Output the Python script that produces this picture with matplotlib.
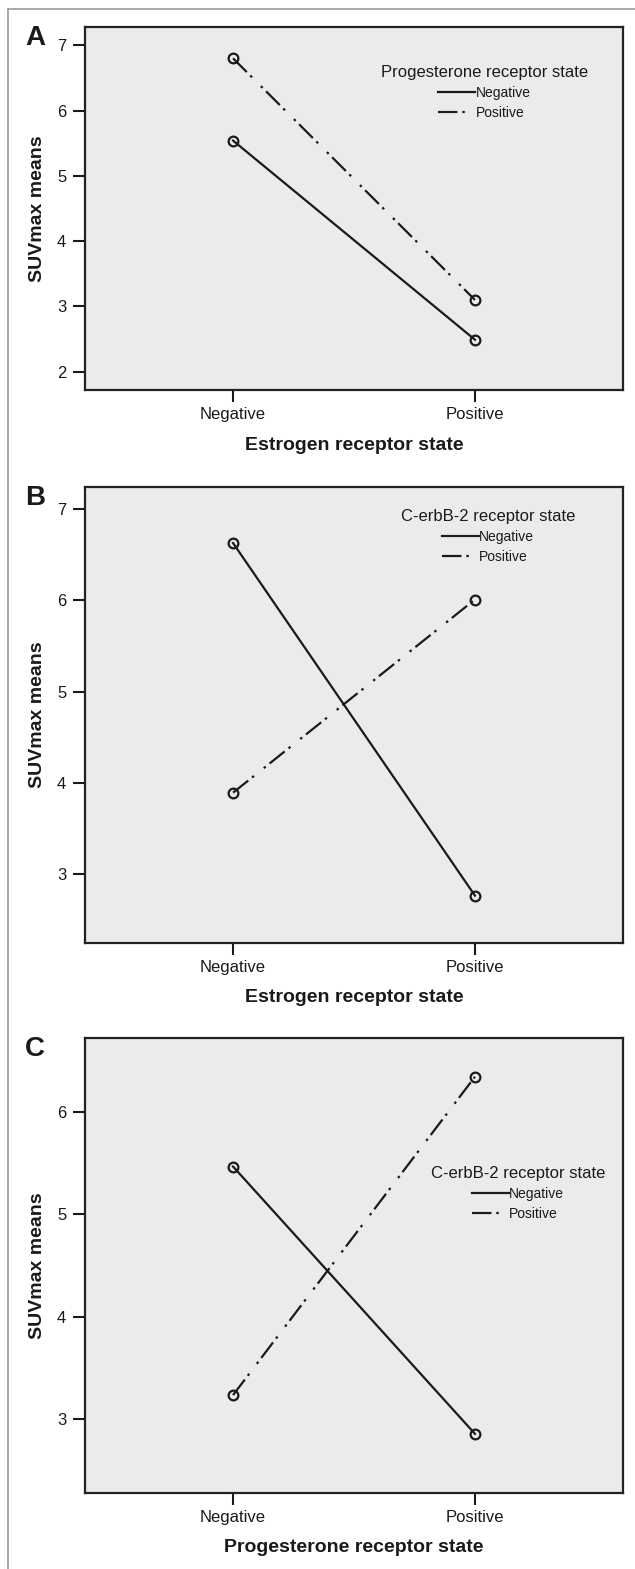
import matplotlib
matplotlib.use('Agg')
import matplotlib.pyplot as plt
from matplotlib.lines import Line2D

plt.rcParams['font.family'] = ['Liberation Sans', 'DejaVu Sans']
plt.rcParams['lines.scale_dashes'] = False

# data
groups = ['Negative', 'Positive']

# A: estrogen x progesterone
a_neg = [5.54, 2.49]
a_pos = [6.80, 3.10]
# B: estrogen x C-erbB-2
b_neg = [6.63, 2.76]
b_pos = [3.89, 6.01]
# C: progesterone x C-erbB-2
c_neg = [5.47, 2.85]
c_pos = [3.23, 6.35]

W, H = 635, 1569
fig = plt.figure(figsize=(W / 100, H / 100), dpi=100)

ink = '#1a1a1a'
dashdot = (0, (14, 3.5, 1.8, 9, 1.8, 3.5))

# thin frame: top and left only
fig.add_artist(Line2D([8 / W, 1], [1 - 9 / H, 1 - 9 / H], color='#9a9a9a', lw=1.2))
fig.add_artist(Line2D([8 / W, 8 / W], [0, 1 - 9 / H], color='#9a9a9a', lw=1.2))

panels = [
    # letter, top px, bottom px, neg, pos, ylim, yticks, xlabel, legend title, legend anchor
    ('A', 27, 390, a_neg, a_pos, (1.72, 7.28), [2, 3, 4, 5, 6, 7],
     'Estrogen receptor state', 'Progesterone receptor state', (0.742, 0.915)),
    ('B', 487, 943, b_neg, b_pos, (2.24, 7.245), [3, 4, 5, 6, 7],
     'Estrogen receptor state', 'C-erbB-2 receptor state', (0.749, 0.968)),
    ('C', 1038, 1493, c_neg, c_pos, (2.27, 6.73), [3, 4, 5, 6],
     'Progesterone receptor state', 'C-erbB-2 receptor state', (0.805, 0.735)),
]

left, right = 85, 623
x = [0, 1]

for letter, top, bot, neg, pos, ylim, yticks, xlab, ltitle, anchor in panels:
    h = bot - top
    ax = fig.add_axes([left / W, 1 - bot / H, (right - left) / W, h / H])
    ax.set_facecolor('#ebebeb')

    ax.plot(x, neg, color=ink, lw=1.6, ls='-', label='Negative')
    ax.plot(x, pos, color=ink, lw=1.6, ls=dashdot, label='Positive')
    ax.plot(x, neg, 'o', ms=7, mfc='none', mec=ink, mew=1.6)
    ax.plot(x, pos, 'o', ms=7, mfc='none', mec=ink, mew=1.6)

    ax.set_xlim(-0.612, 1.612)
    ax.set_ylim(*ylim)
    ax.set_xticks(x)
    ax.set_xticklabels(groups)
    ax.set_yticks(yticks)
    ax.tick_params(axis='both', length=8.5, width=1.5, color=ink,
                   labelsize=12, labelcolor=ink)
    ax.tick_params(axis='x', pad=4)
    ax.tick_params(axis='y', pad=5)
    for sp in ax.spines.values():
        sp.set_linewidth(1.6)
        sp.set_color('#222222')

    ax.set_xlabel(xlab, fontsize=14, fontweight='bold', color=ink)
    ax.xaxis.label.set_va('center')
    ax.xaxis.set_label_coords(0.5, -55 / h)
    ax.set_ylabel('SUVmax means', fontsize=14, fontweight='bold', color=ink)
    ax.yaxis.label.set_va('center')
    ax.yaxis.set_label_coords((37 - left) / (right - left), 0.5)

    leg = ax.legend(title=ltitle, loc='upper center', bbox_to_anchor=anchor,
                    frameon=False, borderpad=0, handlelength=2.7,
                    handletextpad=0.0, fontsize=10, title_fontsize=12,
                    labelspacing=0.45)
    for t in leg.get_texts():
        t.set_color(ink)
    leg.get_title().set_color(ink)

    fig.text(35 / W, 1 - (top + 11) / H, letter, fontsize=20, fontweight='bold',
             ha='center', va='center', color=ink)

fig.savefig('out.png', dpi=100)
